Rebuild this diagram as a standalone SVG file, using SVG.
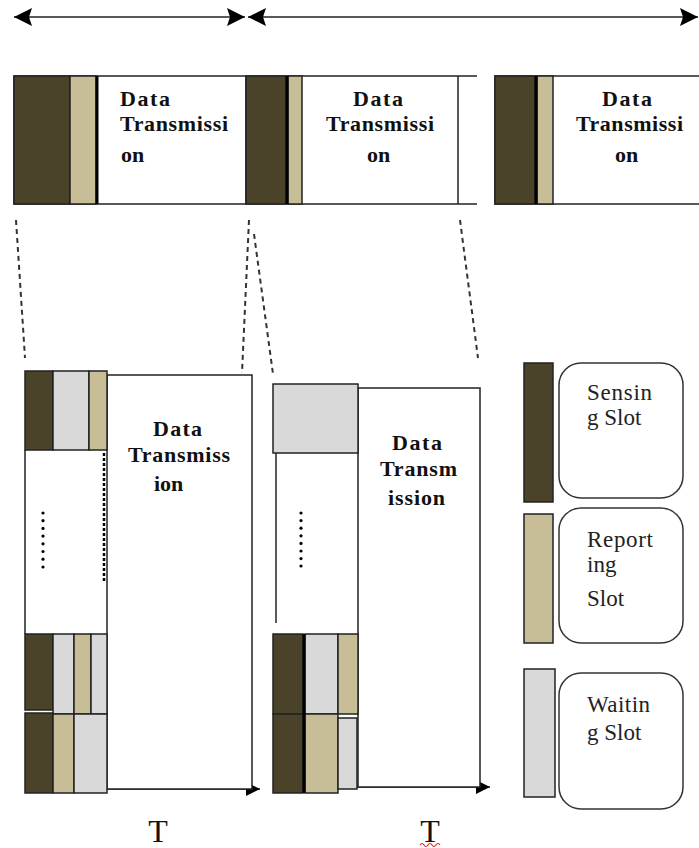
<svg xmlns="http://www.w3.org/2000/svg" width="699" height="848" viewBox="0 0 699 848">
<style>
.bg{fill:#fff}
.sen{fill:#4a432a;stroke:#222;stroke-width:1.5}
.rep{fill:#c7bd97;stroke:#222;stroke-width:1.5}
.wai{fill:#d9d9d9;stroke:#222;stroke-width:1.5}
.box{fill:#fff;stroke:#222;stroke-width:1.5}
.ln{stroke:#222;stroke-width:1.5;fill:none}
.thick{stroke:#000;stroke-width:3}
.dash{stroke:#333;stroke-width:2;stroke-dasharray:5 4;fill:none}
.dot{fill:#000}
.dt{font-family:"Liberation Serif",serif;font-weight:bold;font-size:22px;fill:#111}
.lg{font-family:"Liberation Serif",serif;font-size:23px;fill:#222}
.tt{font-family:"Liberation Serif",serif;font-size:32px;fill:#111}
.leg{fill:#fff;stroke:#333;stroke-width:1.5}
</style>
<defs>
<marker id="ahBig" markerUnits="userSpaceOnUse" viewBox="0 0 18 18" refX="18" refY="9" markerWidth="18" markerHeight="18" orient="auto-start-reverse">
<path d="M0,0 L18,9 L0,18 L3,9 z" fill="#000"/>
</marker>
<marker id="ahSm" markerUnits="userSpaceOnUse" viewBox="0 0 14 14" refX="14" refY="7" markerWidth="14" markerHeight="14" orient="auto">
<path d="M0,0 L14,7 L0,14 z" fill="#000"/>
</marker>
</defs>
<rect class="bg" width="699" height="848"/>

<g id="connectors">
<line class="ln" x1="14" y1="17" x2="245" y2="17" stroke-width="2" marker-start="url(#ahBig)" marker-end="url(#ahBig)"/>
<line class="ln" x1="248" y1="17" x2="698" y2="17" stroke-width="2" marker-start="url(#ahBig)" marker-end="url(#ahBig)"/>
<line class="dash" x1="16" y1="220" x2="25" y2="358"/>
<line class="dash" x1="249" y1="220" x2="242" y2="373"/>
<line class="dash" x1="254" y1="234" x2="273" y2="374"/>
<line class="dash" x1="460" y1="220" x2="478" y2="358"/>
<line class="ln" x1="107" y1="789" x2="260" y2="789" stroke-width="2" marker-end="url(#ahSm)"/>
<line class="ln" x1="357" y1="787" x2="490" y2="787" stroke-width="2" marker-end="url(#ahSm)"/>
</g>

<g id="top-frame-1">
<rect class="box" x="14" y="76" width="232" height="128"/>
<rect class="sen" x="14" y="76" width="56" height="128"/>
<rect class="rep" x="70" y="76" width="26" height="128"/>
<line class="thick" x1="97" y1="76" x2="97" y2="204"/>
<text class="dt" x="120" y="106" textLength="50" lengthAdjust="spacing">Data</text>
<text class="dt" x="120" y="131" textLength="108" lengthAdjust="spacing">Transmissi</text>
<text class="dt" x="121" y="162">on</text>
</g>

<g id="top-frame-2">
<line class="ln" x1="246" y1="76" x2="477" y2="76"/>
<line class="ln" x1="246" y1="204" x2="477" y2="204"/>
<line class="ln" x1="458" y1="76" x2="458" y2="204"/>
<rect class="sen" x="246" y="76" width="40" height="128"/>
<rect class="rep" x="288" y="76" width="14" height="128"/>
<line class="thick" x1="287" y1="76" x2="287" y2="204"/>
<text class="dt" x="353" y="106" textLength="50" lengthAdjust="spacing">Data</text>
<text class="dt" x="326" y="131" textLength="108" lengthAdjust="spacing">Transmissi</text>
<text class="dt" x="367" y="162">on</text>
</g>

<g id="top-frame-3">
<rect class="box" x="495" y="76" width="210" height="128"/>
<rect class="sen" x="495" y="76" width="40" height="128"/>
<rect class="rep" x="537" y="76" width="16" height="128"/>
<line class="thick" x1="536" y1="76" x2="536" y2="204"/>
<text class="dt" x="602" y="106" textLength="50" lengthAdjust="spacing">Data</text>
<text class="dt" x="576" y="131" textLength="107" lengthAdjust="spacing">Transmissi</text>
<text class="dt" x="615" y="162">on</text>
</g>

<g id="frame-left">
<rect class="box" x="107" y="375" width="145" height="414"/>
<line class="ln" x1="25" y1="450" x2="25" y2="634"/>
<rect class="sen" x="25" y="371" width="28" height="79"/>
<rect class="wai" x="53" y="371" width="36" height="79"/>
<rect class="rep" x="89" y="371" width="18" height="79"/>
<line x1="104" y1="453" x2="104" y2="583" stroke="#000" stroke-width="2.5" stroke-dasharray="3 2"/>
<g class="dot">
<circle cx="43" cy="513" r="1.6"/><circle cx="43" cy="520.7" r="1.6"/><circle cx="43" cy="528.4" r="1.6"/><circle cx="43" cy="536.1" r="1.6"/><circle cx="43" cy="543.8" r="1.6"/><circle cx="43" cy="551.5" r="1.6"/><circle cx="43" cy="559.2" r="1.6"/><circle cx="43" cy="567" r="1.6"/>
</g>
<rect class="sen" x="25" y="634" width="28" height="76"/>
<rect class="wai" x="53" y="634" width="21" height="80"/>
<rect class="rep" x="74" y="634" width="17" height="80"/>
<rect class="wai" x="91" y="634" width="16" height="80"/>
<rect class="sen" x="25" y="713" width="28" height="80"/>
<rect class="rep" x="53" y="714" width="21" height="79"/>
<rect class="wai" x="74" y="714" width="33" height="79"/>
<text class="dt" x="153" y="436" textLength="49" lengthAdjust="spacing">Data</text>
<text class="dt" x="128" y="462" textLength="102" lengthAdjust="spacing">Transmiss</text>
<text class="dt" x="154" y="491">ion</text>
<text class="tt" x="158" y="842" text-anchor="middle">T</text>
</g>

<g id="frame-middle">
<rect class="box" x="358" y="388" width="122" height="399"/>
<line class="ln" x1="276" y1="453" x2="276" y2="623"/>
<rect class="wai" x="273" y="384" width="85" height="69"/>
<g class="dot">
<circle cx="301" cy="513" r="1.6"/><circle cx="301" cy="520.6" r="1.6"/><circle cx="301" cy="528.2" r="1.6"/><circle cx="301" cy="535.8" r="1.6"/><circle cx="301" cy="543.4" r="1.6"/><circle cx="301" cy="551" r="1.6"/><circle cx="301" cy="558.6" r="1.6"/><circle cx="301" cy="566" r="1.6"/>
</g>
<rect class="sen" x="273" y="634" width="30" height="80"/>
<rect class="wai" x="305" y="634" width="33" height="80"/>
<rect class="rep" x="338" y="634" width="20" height="80"/>
<rect class="sen" x="273" y="714" width="30" height="79"/>
<rect class="rep" x="305" y="714" width="33" height="79"/>
<rect class="wai" x="338" y="718" width="19" height="71"/>
<line class="thick" x1="304" y1="634" x2="304" y2="793"/>
<text class="dt" x="392" y="450" textLength="50" lengthAdjust="spacing">Data</text>
<text class="dt" x="380" y="476" textLength="77" lengthAdjust="spacing">Transm</text>
<text class="dt" x="388" y="505" textLength="57" lengthAdjust="spacing">ission</text>
<text class="tt" x="430" y="842" text-anchor="middle">T</text>
<path d="M420,845 q2,-3 4,0 t4,0 t4,0 t4,0 t4,0" fill="none" stroke="#e02020" stroke-width="1.2"/>
</g>

<g id="legend-sensing">
<rect class="sen" x="524" y="363" width="29" height="139"/>
<rect class="leg" x="559" y="363" width="124" height="135" rx="22"/>
<text class="lg" x="587" y="400" textLength="65" lengthAdjust="spacing">Sensin</text>
<text class="lg" x="587" y="425">g Slot</text>
</g>

<g id="legend-reporting">
<rect class="rep" x="524" y="514" width="29" height="129"/>
<rect class="leg" x="559" y="508" width="124" height="135" rx="22"/>
<text class="lg" x="587" y="547" textLength="66" lengthAdjust="spacing">Report</text>
<text class="lg" x="587" y="572">ing</text>
<text class="lg" x="587" y="606">Slot</text>
</g>

<g id="legend-waiting">
<rect class="wai" x="524" y="669" width="31" height="128"/>
<rect class="leg" x="559" y="673" width="124" height="136" rx="22"/>
<text class="lg" x="587" y="712" textLength="63" lengthAdjust="spacing">Waitin</text>
<text class="lg" x="587" y="740">g Slot</text>
</g>
</svg>
